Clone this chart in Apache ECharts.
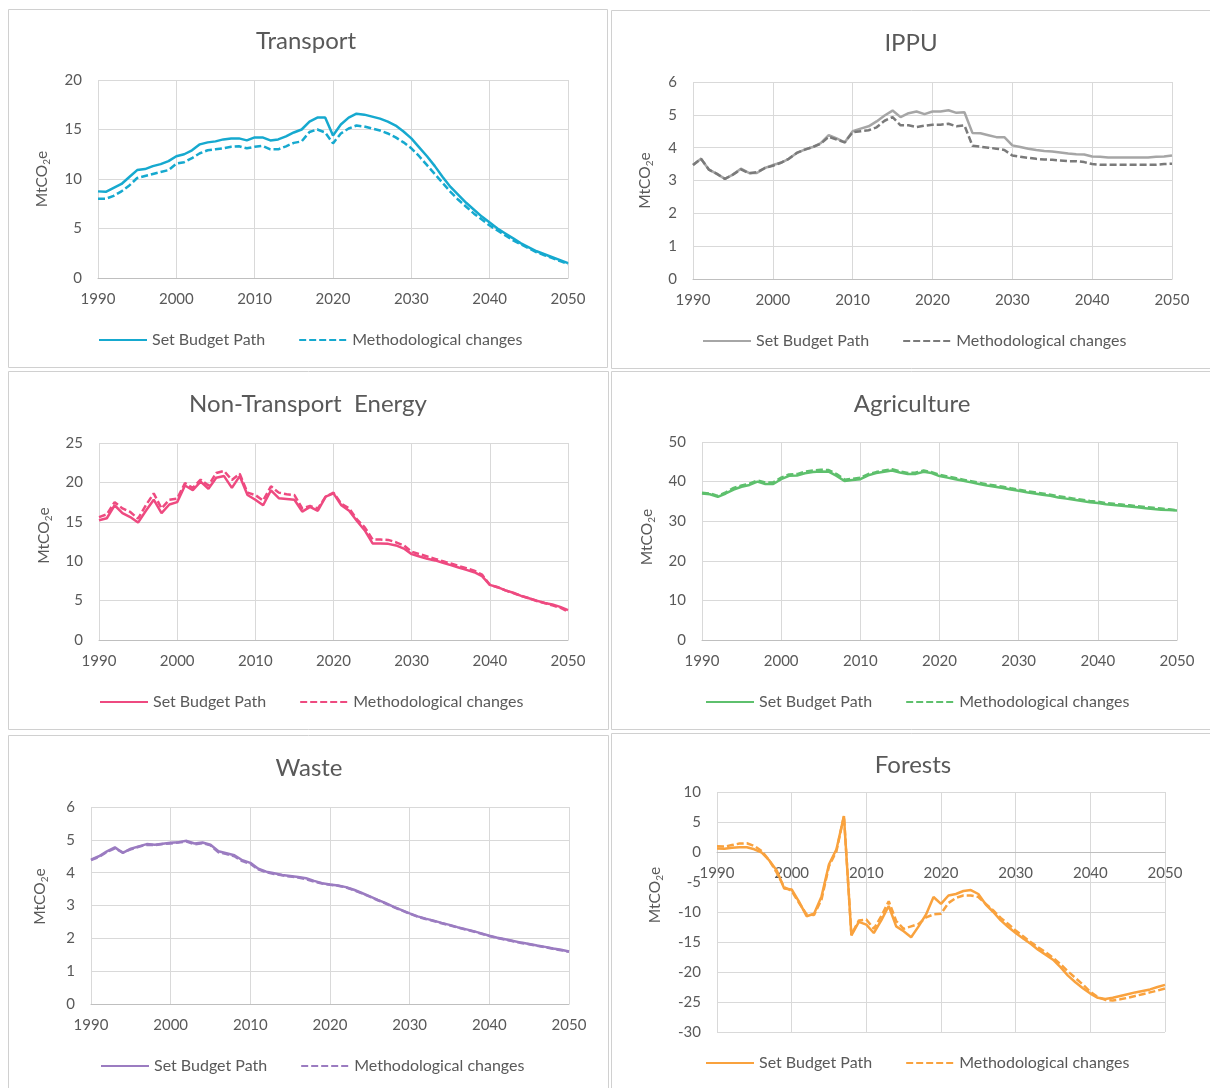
<!DOCTYPE html>
<html><head><meta charset="utf-8">
<script src="https://cdn.jsdelivr.net/npm/echarts@6/dist/echarts.min.js"></script>
<style>html,body{margin:0;padding:0;background:#fff;} #c{width:1210px;height:1088px;}</style>
</head><body><div id="c"></div>
<script>
// ---------- DATA ----------
const years = [];
for (let y = 1990; y <= 2050; y++) years.push(y);

const seriesNames = ['Set Budget Path', 'Methodological changes'];

const transportBudget = [8.75, 8.7, 9.1, 9.5, 10.2, 10.9, 11.0, 11.3, 11.5, 11.8,
  12.3, 12.5, 12.9, 13.5, 13.7, 13.8, 14.0, 14.1, 14.1, 13.9,
  14.2, 14.2, 13.9, 14.0, 14.3, 14.7, 15.0, 15.8, 16.2, 16.2,
  14.4, 15.5, 16.2, 16.6, 16.5, 16.3, 16.1, 15.8, 15.4, 14.8,
  14.1, 13.2, 12.3, 11.3, 10.2, 9.2, 8.4, 7.6, 6.9, 6.2,
  5.6, 5.0, 4.5, 4.0, 3.5, 3.1, 2.7, 2.4, 2.1, 1.8, 1.5];
const transportMethod = [8.0, 8.0, 8.3, 8.75, 9.35, 10.1, 10.3, 10.5, 10.7, 10.9,
  11.55, 11.7, 12.1, 12.6, 12.9, 13.0, 13.1, 13.25, 13.3, 13.1,
  13.25, 13.35, 13.0, 13.0, 13.3, 13.65, 13.8, 14.75, 15.0, 14.7,
  13.6, 14.6, 15.1, 15.4, 15.3, 15.1, 14.9, 14.6, 14.2, 13.7,
  13.1, 12.3, 11.4, 10.5, 9.6, 8.7, 7.9, 7.2, 6.5, 5.9,
  5.3, 4.8, 4.3, 3.8, 3.4, 3.0, 2.6, 2.3, 2.0, 1.7, 1.4];

const ippuBudget = [3.47, 3.66, 3.33, 3.2, 3.05, 3.18, 3.36, 3.23, 3.23, 3.38,
  3.47, 3.54, 3.66, 3.84, 3.94, 4.02, 4.14, 4.38, 4.28, 4.16,
  4.5, 4.58, 4.65, 4.8, 4.98, 5.13, 4.93, 5.05, 5.1, 5.02,
  5.1, 5.1, 5.14, 5.06, 5.08, 4.45, 4.44, 4.38, 4.32, 4.32,
  4.07, 4.02, 3.97, 3.93, 3.9, 3.88, 3.85, 3.82, 3.8, 3.79,
  3.73, 3.72, 3.7, 3.7, 3.7, 3.7, 3.7, 3.7, 3.72, 3.73, 3.76];
const ippuMethod = [3.47, 3.66, 3.33, 3.2, 3.05, 3.18, 3.34, 3.22, 3.25, 3.38,
  3.45, 3.54, 3.66, 3.84, 3.94, 4.02, 4.12, 4.33, 4.25, 4.16,
  4.47, 4.5, 4.53, 4.62, 4.82, 4.93, 4.68, 4.68, 4.63, 4.67,
  4.7, 4.7, 4.73, 4.65, 4.68, 4.06, 4.03, 4.0, 3.97, 3.93,
  3.76, 3.72, 3.69, 3.66, 3.64, 3.63, 3.61, 3.59, 3.59, 3.56,
  3.5, 3.48, 3.48, 3.48, 3.48, 3.48, 3.48, 3.48, 3.48, 3.5, 3.51];

const nteBudget = [15.2, 15.45, 17.1, 16.1, 15.6, 14.9, 16.4, 17.8, 16.1, 17.2,
  17.5, 19.6, 19.0, 20.1, 19.2, 20.6, 20.8, 19.3, 20.8, 18.4,
  17.8, 17.1, 19.0, 18.0, 17.9, 17.8, 16.3, 16.9, 16.4, 18.2,
  18.6, 17.1, 16.4, 15.1, 13.9, 12.25, 12.25, 12.2, 12.0, 11.6,
  10.9, 10.6, 10.3, 10.1, 9.8, 9.5, 9.2, 8.9, 8.6, 8.1,
  7.0, 6.7, 6.3, 6.0, 5.6, 5.3, 5.0, 4.7, 4.5, 4.2, 3.8];
const nteMethod = [15.6, 15.95, 17.5, 16.7, 16.25, 15.4, 17.1, 18.6, 16.7, 17.8,
  17.95, 19.9, 19.3, 20.35, 19.6, 21.2, 21.45, 20.3, 21.1, 18.7,
  18.4, 17.7, 19.5, 18.7, 18.5, 18.4, 16.7, 17.0, 16.7, 18.2,
  18.7, 17.3, 16.7, 15.3, 14.3, 12.75, 12.75, 12.7, 12.4, 12.0,
  11.2, 10.9, 10.6, 10.3, 10.0, 9.7, 9.4, 9.1, 8.8, 8.3,
  7.0, 6.7, 6.3, 5.95, 5.6, 5.3, 4.95, 4.7, 4.4, 4.1, 3.6];

const agriBudget = [37.0, 36.8, 36.15, 37.0, 38.0, 38.7, 39.15, 40.0, 39.4, 39.4,
  40.6, 41.45, 41.55, 42.1, 42.4, 42.55, 42.5, 41.45, 40.15, 40.4,
  40.6, 41.6, 42.15, 42.5, 42.8, 42.3, 41.9, 41.95, 42.5, 42.15,
  41.4, 41.0, 40.6, 40.2, 39.8, 39.4, 39.0, 38.7, 38.4, 38.0,
  37.7, 37.3, 37.0, 36.7, 36.4, 36.0, 35.7, 35.4, 35.1, 34.8,
  34.6, 34.3, 34.1, 33.9, 33.7, 33.5, 33.3, 33.1, 32.9, 32.8, 32.7];
const agriMethod = [37.2, 37.0, 36.4, 37.3, 38.4, 39.0, 39.5, 40.3, 39.8, 39.8,
  41.0, 41.8, 41.9, 42.5, 42.8, 43.0, 42.9, 41.9, 40.5, 40.7,
  41.0, 41.9, 42.4, 42.8, 43.1, 42.6, 42.2, 42.3, 42.8, 42.4,
  41.7, 41.3, 40.9, 40.5, 40.1, 39.7, 39.3, 39.0, 38.7, 38.3,
  38.0, 37.6, 37.3, 37.0, 36.7, 36.3, 36.0, 35.7, 35.4, 35.1,
  34.9, 34.6, 34.4, 34.2, 34.0, 33.8, 33.6, 33.4, 33.2, 33.0, 32.8];

const wasteBudget = [4.4, 4.5, 4.65, 4.77, 4.6, 4.73, 4.8, 4.87, 4.85, 4.88,
  4.91, 4.93, 4.97, 4.89, 4.92, 4.85, 4.65, 4.59, 4.53, 4.38,
  4.3, 4.12, 4.03, 3.98, 3.93, 3.9, 3.87, 3.83, 3.75, 3.68,
  3.64, 3.61, 3.56, 3.48, 3.38, 3.28, 3.17, 3.07, 2.96, 2.86,
  2.76, 2.67, 2.6, 2.54, 2.47, 2.41, 2.34, 2.28, 2.22, 2.15,
  2.08, 2.02, 1.97, 1.92, 1.87, 1.83, 1.78, 1.74, 1.69, 1.65, 1.6];
const wasteMethod = [4.38, 4.48, 4.63, 4.74, 4.62, 4.71, 4.79, 4.85, 4.84, 4.87,
  4.89, 4.92, 4.95, 4.86, 4.9, 4.83, 4.62, 4.57, 4.5, 4.35,
  4.27, 4.1, 4.01, 3.96, 3.92, 3.88, 3.85, 3.8, 3.73, 3.67,
  3.63, 3.6, 3.55, 3.47, 3.37, 3.27, 3.16, 3.06, 2.95, 2.85,
  2.75, 2.66, 2.59, 2.53, 2.46, 2.4, 2.33, 2.27, 2.21, 2.14,
  2.07, 2.01, 1.96, 1.91, 1.86, 1.82, 1.77, 1.73, 1.68, 1.64, 1.59];

const forestBudget = [0.6, 0.55, 0.7, 0.8, 0.8, 0.45, -0.1, -1.4, -3.1, -6.1,
  -6.25, -8.3, -10.7, -10.3, -7.4, -2.05, 0.45, 6.0, -13.9, -11.65,
  -12.1, -13.5, -11.4, -9.0, -12.4, -13.2, -14.2, -12.4, -10.4, -7.5,
  -8.65, -7.25, -7.0, -6.5, -6.35, -7.0, -8.75, -10.0, -11.4, -12.5,
  -13.5, -14.4, -15.3, -16.3, -17.1, -17.95, -19.2, -20.6, -21.7, -22.7,
  -23.6, -24.3, -24.5, -24.3, -24.0, -23.7, -23.4, -23.15, -22.9, -22.5, -22.15];
const forestMethod = [0.95, 0.9, 1.15, 1.4, 1.45, 1.0, 0.15, -1.4, -3.45, -5.85,
  -6.5, -8.5, -10.4, -10.5, -7.9, -2.35, 0.15, 6.0, -13.8, -11.4,
  -11.25, -12.8, -10.7, -8.2, -11.5, -12.8, -12.4, -12.0, -10.9, -10.4,
  -10.3, -8.5, -7.65, -7.25, -7.25, -7.5, -8.65, -9.75, -11.0, -12.0,
  -13.1, -14.05, -15.0, -15.9, -16.7, -17.6, -18.7, -19.9, -21.0, -22.1,
  -23.3, -24.2, -24.65, -24.75, -24.55, -24.3, -24.0, -23.7, -23.4, -23.1, -22.75];

// ---------- PANELS ----------
const panels = [
  { title: 'Transport', budget: transportBudget, method: transportMethod, yMin: 0, yMax: 20, yStep: 5 },
  { title: 'IPPU', budget: ippuBudget, method: ippuMethod, yMin: 0, yMax: 6, yStep: 1 },
  { title: 'Non-Transport  Energy', budget: nteBudget, method: nteMethod, yMin: 0, yMax: 25, yStep: 5 },
  { title: 'Agriculture', budget: agriBudget, method: agriMethod, yMin: 0, yMax: 50, yStep: 10 },
  { title: 'Waste', budget: wasteBudget, method: wasteMethod, yMin: 0, yMax: 6, yStep: 1 },
  { title: 'Forests', budget: forestBudget, method: forestMethod, yMin: -30, yMax: 10, yStep: 5 }
];

// ---------- LAYOUT & STYLE ----------
const colors = [
  ['#16a9cf', '#16a9cf'],
  ['#a6a6a6', '#7a7a7a'],
  ['#ee4a80', '#ee4a80'],
  ['#5ec06d', '#5ec06d'],
  ['#9b7cc1', '#9b7cc1'],
  ['#f9a23e', '#f9a23e']
];
const layout = [
  { grid: { left: 98, top: 80, width: 470, height: 198 }, title: [306, 41], legend: [98, 332], box: [8.5, 9.5, 599, 358], nameGap: 46, nameShift: 0 },
  { grid: { left: 693, top: 82, width: 479, height: 197 }, title: [911, 43], legend: [702, 333], box: [611.5, 10.5, 610, 358], nameGap: 38, nameShift: 0 },
  { grid: { left: 99, top: 443, width: 469, height: 197 }, title: [308, 404], legend: [99, 694], box: [8.5, 371.5, 600, 358], nameGap: 45, nameShift: 12 },
  { grid: { left: 702, top: 442, width: 475, height: 198 }, title: [912, 404], legend: [705, 694], box: [611.5, 371.5, 610, 358], nameGap: 45, nameShift: 8 },
  { grid: { left: 91, top: 807, width: 478, height: 197 }, title: [309, 768], legend: [100, 1058], box: [8.5, 735.5, 600, 360], nameGap: 41, nameShift: 18 },
  { grid: { left: 717, top: 792, width: 448, height: 240 }, title: [913, 765], legend: [705, 1055], box: [611.5, 733.5, 610, 360], nameGap: 52, nameShift: 34 }
];
const FONT = 'Lato, "Open Sans", sans-serif';
const TXT = '#595959';
const GRIDC = '#d9d9d9';

const grids = [], xAxes = [], yAxes = [], series = [], legends = [], graphics = [];

panels.forEach((p, i) => {
  const L = layout[i];
  grids.push(Object.assign({ containLabel: false }, L.grid));
  // place the category axis (line + labels) at value 0, as the spreadsheet does
  const zeroOffset = p.yMin < 0 ? -L.grid.height * (0 - p.yMin) / (p.yMax - p.yMin) : 0;
  xAxes.push({
    type: 'value', gridIndex: i, min: 1990, max: 2050, interval: 10,
    position: 'bottom', offset: zeroOffset,
    axisLine: { show: true, onZero: false, lineStyle: { color: '#bfbfbf', width: 1 } },
    axisTick: { show: false },
    axisLabel: { color: TXT, fontSize: 15, fontFamily: FONT, margin: 14, formatter: v => String(v), showMinLabel: true, showMaxLabel: true, hideOverlap: false },
    splitLine: { show: true, lineStyle: { color: GRIDC, width: 1 } }
  });
  yAxes.push({
    type: 'value', gridIndex: i, min: p.yMin, max: p.yMax, interval: p.yStep,
    axisLine: { show: false }, axisTick: { show: false },
    axisLabel: { color: TXT, fontSize: 15, fontFamily: FONT, margin: 16 },
    splitLine: { show: true, lineStyle: { color: GRIDC, width: 1 } },
    name: '{a|MtCO}{s|2}{a|e}',
    nameLocation: 'middle', nameRotate: 90, nameGap: L.nameGap,
    nameTextStyle: {
      color: TXT, fontFamily: FONT,
      padding: [0, 0, 0, L.nameShift],
      rich: {
        a: { fontSize: 15.5, fontFamily: FONT, color: TXT, lineHeight: 20, verticalAlign: 'middle' },
        s: { fontSize: 10, fontFamily: FONT, color: TXT, lineHeight: 20, verticalAlign: 'bottom' }
      }
    }
  });
  const names = [p.title + '::' + seriesNames[0], p.title + '::' + seriesNames[1]];
  series.push({
    type: 'line', name: names[0], xAxisIndex: i, yAxisIndex: i,
    data: years.map((y, k) => [y, p.budget[k]]),
    symbol: 'none', showSymbol: false, smooth: false, silent: true,
    lineStyle: { color: colors[i][0], width: 2.5, type: 'solid' },
    itemStyle: { color: colors[i][0] }
  });
  series.push({
    type: 'line', name: names[1], xAxisIndex: i, yAxisIndex: i,
    data: years.map((y, k) => [y, p.method[k]]),
    symbol: 'none', showSymbol: false, smooth: false, silent: true,
    lineStyle: { color: colors[i][1], width: 2.5, type: [7, 3] },
    itemStyle: { color: colors[i][1] }
  });
  legends.push({
    data: names, left: L.legend[0], top: L.legend[1], padding: 0,
    itemWidth: 48, itemHeight: 14, itemGap: 33, orient: 'horizontal',
    selectedMode: false,
    itemStyle: { opacity: 0 },
    textStyle: { color: TXT, fontSize: 16, fontFamily: FONT },
    formatter: n => n.split('::')[1]
  });
  graphics.push({
    type: 'rect', silent: true, z: -10,
    shape: { x: L.box[0], y: L.box[1], width: L.box[2], height: L.box[3] },
    style: { fill: 'none', stroke: '#d0d0d0', lineWidth: 1 }
  });
  graphics.push({
    type: 'text', silent: true, x: L.title[0], y: L.title[1],
    style: { text: p.title, fill: TXT, font: '24px ' + FONT, textAlign: 'center', textVerticalAlign: 'middle', verticalAlign: 'middle' }
  });
});

const chart = echarts.init(document.getElementById('c'), null, { renderer: 'canvas' });
chart.setOption({
  backgroundColor: '#ffffff',
  animation: false,
  grid: grids, xAxis: xAxes, yAxis: yAxes, series: series, legend: legends,
  graphic: { elements: graphics }
});
</script>
</body></html>
